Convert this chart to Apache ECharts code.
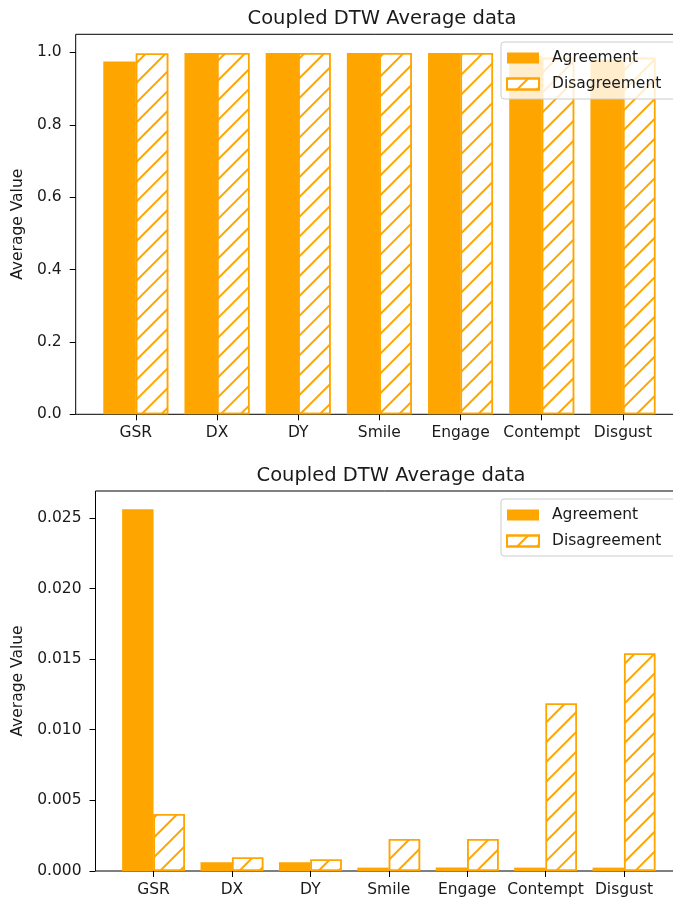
<!DOCTYPE html>
<html>
<head>
<meta charset="utf-8">
<script src="https://cdn.jsdelivr.net/npm/echarts@6/dist/echarts.min.js"></script>
<style>
  html, body { margin: 0; padding: 0; background: #fff; }
  #main { width: 673px; height: 901px; }
</style>
</head>
<body>
<div id="main"></div>
<script>
// 分类 / 数值
var categories = ['GSR', 'DX', 'DY', 'Smile', 'Engage', 'Contempt', 'Disgust'];
var topAgreement = [0.975, 0.998, 0.998, 0.998, 0.998, 0.99, 0.98];
var topDisagreement = [0.997, 0.998, 0.998, 0.998, 0.998, 0.985, 0.985];
var botAgreement = [0.0256, 0.00062, 0.00062, 0.00024, 0.00024, 0.00024, 0.00024];
var botDisagreement = [0.00403, 0.00095, 0.00082, 0.00227, 0.00227, 0.01186, 0.0154];
var topTicks = [0, 0.2, 0.4, 0.6, 0.8, 1.0];
var botTicks = [0, 0.005, 0.01, 0.015, 0.02, 0.025];
var catTicks = categories.map(function (c, i) { return i; });

var ORANGE = '#ffa500';
var FONT = 'DejaVu Sans';

// 斜线填充
var hatch = {
    symbol: 'rect',
    symbolSize: 1,
    color: ORANGE,
    dashArrayX: [1, 0],
    dashArrayY: [1.2, 11.5],
    rotation: -Math.PI / 4
};

function pairs(arr) {
    return arr.map(function (v, i) { return [i, v]; });
}

function xAxisCfg(gridIndex) {
    return {
        gridIndex: gridIndex,
        type: 'value',
        min: -0.74,
        max: 6.74,
        axisLine: { show: false, onZero: false },
        splitLine: { show: false },
        axisTick: {
            show: true,
            length: 6,
            customValues: catTicks,
            lineStyle: { color: '#000', width: 1 }
        },
        axisLabel: {
            customValues: catTicks,
            margin: 11,
            fontFamily: FONT,
            fontSize: 15.5,
            color: '#1a1a1a',
            formatter: function (v) { return categories[v]; }
        }
    };
}

function yAxisCfg(gridIndex, max, ticks, digits, gap) {
    return {
        gridIndex: gridIndex,
        type: 'value',
        min: 0,
        max: max,
        name: 'Average Value',
        nameLocation: 'middle',
        nameGap: gap,
        nameTextStyle: { fontFamily: FONT, fontSize: 15.5, color: '#1a1a1a' },
        axisLine: { show: false, onZero: false },
        splitLine: { show: false },
        axisTick: {
            show: true,
            length: 6,
            customValues: ticks,
            lineStyle: { color: '#000', width: 1 }
        },
        axisLabel: {
            customValues: ticks,
            margin: 14,
            fontFamily: FONT,
            fontSize: 15.5,
            color: '#1a1a1a',
            formatter: function (v) { return v.toFixed(digits); }
        }
    };
}

function legendCfg(top) {
    return {
        orient: 'vertical',
        left: 501,
        top: top,
        padding: [8, 19, 7, 5],
        itemGap: 10,
        itemWidth: 32,
        itemHeight: 11,
        icon: 'rect',
        backgroundColor: 'rgba(255,255,255,0.8)',
        borderColor: '#cccccc',
        borderWidth: 1,
        borderRadius: 3,
        textStyle: { fontFamily: FONT, fontSize: 15.5, color: '#1a1a1a', padding: [0, 0, 0, 8] },
        data: ['Agreement', 'Disagreement']
    };
}

function barSeries(name, data, axisIdx, width, hatched) {
    return {
        name: name,
        type: 'bar',
        xAxisIndex: axisIdx,
        yAxisIndex: axisIdx,
        barWidth: width,
        barGap: '0%',
        data: pairs(data),
        itemStyle: hatched ? {
            color: '#ffffff',
            borderColor: ORANGE,
            borderWidth: 1.5,
            decal: hatch
        } : {
            color: ORANGE
        }
    };
}

var myChart = echarts.init(document.getElementById('main'), null, { renderer: 'canvas' });

var option = {
    animation: false,
    backgroundColor: '#ffffff',
    title: [{
        text: 'Coupled DTW Average data',
        left: 377, top: 4, textAlign: 'center',
        textStyle: { fontFamily: FONT, fontSize: 19.5, fontWeight: 'normal', color: '#1a1a1a' }
    }, {
        text: 'Coupled DTW Average data',
        left: 386, top: 461, textAlign: 'center',
        textStyle: { fontFamily: FONT, fontSize: 19.5, fontWeight: 'normal', color: '#1a1a1a' }
    }],
    legend: [legendCfg(42), legendCfg(499)],
    grid: [{
        left: 75.7, width: 607.3, top: 34.3, height: 380,
        outerBoundsMode: 'none',
        show: true, borderColor: '#000', borderWidth: 1, backgroundColor: 'transparent'
    }, {
        left: 95.5, width: 586.5, top: 491, height: 380,
        outerBoundsMode: 'none',
        show: true, borderColor: '#000', borderWidth: 1, backgroundColor: 'transparent'
    }],
    xAxis: [xAxisCfg(0), xAxisCfg(1)],
    yAxis: [
        yAxisCfg(0, 1.05, topTicks, 1, 47),
        yAxisCfg(1, 0.0269, botTicks, 3, 67)
    ],
    series: [
        barSeries('Agreement', topAgreement, 0, 32.5, false),
        barSeries('Disagreement', topDisagreement, 0, 32.5, true),
        barSeries('Agreement', botAgreement, 1, 31.4, false),
        barSeries('Disagreement', botDisagreement, 1, 31.4, true)
    ]
};

myChart.setOption(option);
</script>
</body>
</html>
